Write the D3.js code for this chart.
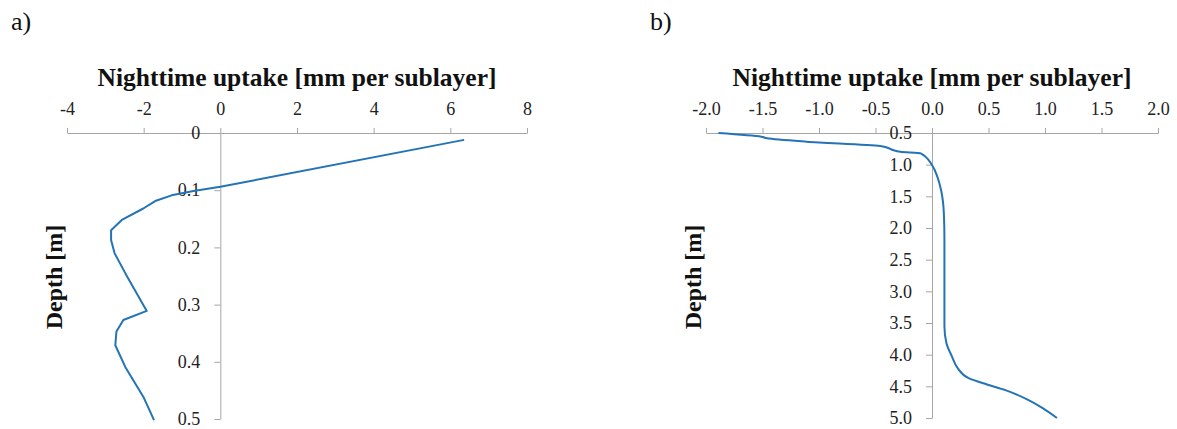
<!DOCTYPE html>
<html>
<head>
<meta charset="utf-8">
<script src="https://cdn.jsdelivr.net/npm/d3@7"></script>
<style>
	body { margin: 0; background: #fff; }
	svg { font-family: "Liberation Serif", "Times New Roman", serif; }
	.axis path, .axis line { stroke: #a6a6a6; stroke-width: 1; }
	.axis text { font-family: "Liberation Serif", "Times New Roman", serif; font-size: 18px; fill: #222; }
	.title { font-size: 25.5px; font-weight: bold; fill: #111; }
	.ytitle { font-size: 24px; font-weight: bold; fill: #111; }
	.panel-label { font-size: 26px; fill: #111; }
</style>
</head>
<body>
<div id="chart"></div>
<script>

// panel a) shallow profile
var uptakeA = [6.36, 0.0, -0.7, -1.27, -1.7, -2.01, -2.57, -2.85, -2.85, -2.76, -2.48, -1.92, -2.53, -2.71, -2.74, -2.48, -2.01, -1.73];
var depthA  = [0.012, 0.094, 0.1015, 0.109, 0.119, 0.132, 0.152, 0.170, 0.187, 0.210, 0.245, 0.311, 0.327, 0.347, 0.371, 0.409, 0.461, 0.502];
var xTicksA = [-4, -2, 0, 2, 4, 6, 8];
var yTicksA = [0, 0.1, 0.2, 0.3, 0.4, 0.5];

// panel b) deep profile
var uptakeB = [-1.89, -1.51, -1.46, -1.11, -0.46, -0.28, -0.10, 0.0, 0.047, 0.08, 0.105, 0.11, 0.11, 0.11, 0.128, 0.177, 0.226, 0.324, 0.487, 0.65, 0.846, 0.976, 1.106];
var depthB  = [0.50, 0.558, 0.584, 0.637, 0.705, 0.795, 0.82, 1.005, 1.19, 1.40, 1.77, 2.19, 2.98, 3.55, 3.82, 4.03, 4.21, 4.37, 4.47, 4.56, 4.71, 4.84, 5.0];
var xTicksB = [-2.0, -1.5, -1.0, -0.5, 0.0, 0.5, 1.0, 1.5, 2.0];
var yTicksB = [0.5, 1.0, 1.5, 2.0, 2.5, 3.0, 3.5, 4.0, 4.5, 5.0];

var xTitle = "Nighttime uptake [mm per sublayer]";
var yTitle = "Depth [m]";

// plain hyphen for negatives, like the original
var fmtInt = function(d) { return d3.format("d")(d).replace("\u2212", "-"); };
var fmtOne = function(d) { return d3.format(".1f")(d).replace("\u2212", "-"); };

var svg = d3.select("#chart").append("svg")
	.attr("width", 1177)
	.attr("height", 429);

function drawPanel(opt) {
	var x = d3.scaleLinear().domain(opt.xDomain).range(opt.xRange);
	var y = d3.scaleLinear().domain(opt.yDomain).range([133, opt.yBottom]);

	// horizontal axis on top
	svg.append("g")
		.attr("class", "axis")
		.attr("transform", "translate(0," + y(opt.yDomain[0]) + ")")
		.call(d3.axisTop(x).tickValues(opt.xTicks).tickSize(5).tickSizeOuter(0).tickPadding(13).tickFormat(opt.xFormat));

	// vertical axis through x = 0
	svg.append("g")
		.attr("class", "axis")
		.attr("transform", "translate(" + x(0) + ",0)")
		.call(d3.axisLeft(y).tickValues(opt.yTicks).tickSize(6).tickSizeOuter(0).tickPadding(14).tickFormat(opt.yFormat));

	var pts = opt.uptake.map(function(u, i) { return [u, opt.depth[i]]; });
	var line = d3.line()
		.x(function(d) { return x(d[0]); })
		.y(function(d) { return y(d[1]); })
		.curve(opt.curve);

	svg.append("path")
		.datum(pts)
		.attr("fill", "none")
		.attr("stroke", "#2474b5")
		.attr("stroke-width", 2)
		.attr("stroke-linejoin", "round")
		.attr("d", line);

	svg.append("text")
		.attr("class", "title")
		.attr("x", (opt.xRange[0] + opt.xRange[1]) / 2)
		.attr("y", 86)
		.attr("text-anchor", "middle")
		.text(xTitle);

	svg.append("text")
		.attr("class", "ytitle")
		.attr("transform", "translate(" + opt.yTitleX + ",277) rotate(-90)")
		.attr("text-anchor", "middle")
		.text(yTitle);

	svg.append("text")
		.attr("class", "panel-label")
		.attr("x", opt.labelX)
		.attr("y", 30)
		.text(opt.label);
}

drawPanel({
	label: "a)", labelX: 11,
	uptake: uptakeA, depth: depthA,
	xDomain: [-4, 8], xRange: [67, 527],
	yDomain: [0, 0.5], yBottom: 419,
	xTicks: xTicksA, yTicks: yTicksA,
	xFormat: fmtInt,
	yFormat: function(d) { return d === 0 ? "0" : fmtOne(d); },
	yTitleX: 62,
	curve: d3.curveLinear
});

drawPanel({
	label: "b)", labelX: 650,
	uptake: uptakeB, depth: depthB,
	xDomain: [-2, 2], xRange: [706, 1158],
	yDomain: [0.5, 5], yBottom: 418,
	xTicks: xTicksB, yTicks: yTicksB,
	xFormat: fmtOne,
	yFormat: fmtOne,
	yTitleX: 701,
	curve: d3.curveMonotoneY
});

</script>
</body>
</html>
